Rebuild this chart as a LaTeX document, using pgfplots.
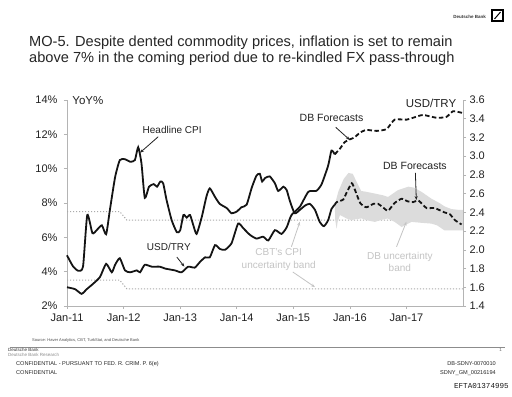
\documentclass[border=0pt]{standalone}
\usepackage{pgfplots}
\pgfplotsset{compat=1.18}
\usepackage{fontspec}
\setmainfont{Liberation Sans}
\setmonofont{Liberation Mono}
\usetikzlibrary{arrows.meta}

\definecolor{axisgrey}{HTML}{B4B4B4}
\definecolor{dotgrey}{HTML}{AAAAAA}
\definecolor{bandgrey}{HTML}{DCDCDC}
\definecolor{labgrey}{HTML}{C4C4C4}
\definecolor{linecol}{HTML}{141414}
\definecolor{txt}{HTML}{222222}

\pgfplotsset{
  common/.style={
    at={(67bp,91bp)}, anchor=south west, scale only axis,
    width=396bp, height=206bp, xmin=0, xmax=84, clip=false,
    axis line style={axisgrey, line width=0.6bp},
    tick style={axisgrey, line width=0.6bp},
    major tick length=3bp, tick align=outside,
    ticklabel style={font=\fontsize{11bp}{13bp}\selectfont, text=txt},
    /pgf/number format/assume math mode=true,
  }
}

\begin{document}
\begin{tikzpicture}
\path[fill=white,use as bounding box] (0,0) rectangle (512bp,397bp);

% logo
\node[anchor=base east, font=\fontsize{4.5bp}{5bp}\selectfont\bfseries, text=black!80, inner sep=0] at (486bp,378bp) {Deutsche Bank};
\draw[line width=1.2bp] (492bp,376bp) rectangle (503bp,387bp);
\draw[line width=1bp] (494.5bp,378bp) -- (500.5bp,385bp);

% title
\node[anchor=base west, font=\fontsize{14.6bp}{18bp}\selectfont, text=black!85, inner sep=0] at (29bp,350bp) {MO-5. Despite dented commodity prices, inflation is set to remain};
\node[anchor=base west, font=\fontsize{14.6bp}{18bp}\selectfont, text=black!85, inner sep=0] at (29bp,334bp) {above 7\% in the coming period due to re-kindled FX pass-through};

\begin{axis}[common,
  ymin=2, ymax=14,
  axis x line*=bottom, axis y line*=left,
  xtick={0,12,24,36,48,60,72},
  xticklabels={Jan-11,Jan-12,Jan-13,Jan-14,Jan-15,Jan-16,Jan-17},
  ytick={2,4,6,8,10,12,14},
  yticklabel={\pgfmathprintnumber{\tick}\%},
  yticklabel style={xshift=-3bp},
  xticklabel style={yshift=-1bp},
]
% CBT uncertainty band (dotted)
\addplot[dotgrey, line width=1bp, dash pattern=on 1.2bp off 1.8bp] coordinates {(0,7.5)(11.2,7.5)(12.7,7.0)(84,7.0)};
\addplot[dotgrey, line width=1bp, dash pattern=on 1.2bp off 1.8bp] coordinates {(0,3.5)(11.2,3.5)(12.7,3.0)(84,3.0)};
% DB uncertainty band
\addplot[fill=bandgrey, draw=none] coordinates {
(56.8,7.9)(57.6,8.7)(58.7,9.4)(59.7,9.75)(60.6,9.7)(61.5,9.2)(62.4,8.7)(63.5,8.65)(65.3,8.55)(67.0,8.45)(68.1,8.35)(70.2,8.75)(72.4,8.95)(73.5,8.9)(75.2,8.65)(77.3,8.25)(79.0,8.0)(80.1,7.8)(81.5,7.65)(83.0,7.6)(84,7.6)
(84,6.4)(81,6.4)(80.1,6.4)(78.5,6.7)(77.3,6.8)(75,6.85)(73.1,6.9)(72,6.75)(71.0,6.6)(69.5,6.9)(68.0,7.1)(66.5,7.0)(65.3,6.9)(63.5,7.0)(62.5,7.1)(61,7.05)(60.4,7.0)(59.3,7.1)(57.9,7.3)(57.4,6.9)(57.2,6.5)(56.9,7.0)(56.8,7.9)
} -- cycle;
% Headline CPI
\addplot[linecol, line width=1.8bp, smooth, tension=0.35] coordinates {
(0,4.95)(1.3,4.3)(2.4,4.05)(3.4,4.3)(4.3,7.3)(5.4,6.24)(6.4,6.45)(7.4,6.7)(8.3,6.18)(9.1,7.6)(10.2,9.5)(11.2,10.5)(12.3,10.55)(13.4,10.4)(14.4,10.5)(15.1,11.25)(15.8,10.3)(16.5,8.3)(17.4,8.95)(18.4,9.1)(19.1,8.95)(19.8,9.25)(20.4,9.15)(21.1,8.2)(22.2,7.0)(23.3,6.3)(24.0,6.4)(24.7,7.3)(25.4,7.15)(26.1,7.3)(26.8,6.7)(27.5,6.2)(28.6,7.2)(29.6,8.4)(30.3,8.85)(31.4,8.35)(32.4,7.95)(33.9,7.7)(34.9,7.4)(36.0,7.5)(37.0,7.75)(38.1,7.9)(39.2,8.9)(40.2,9.6)(40.9,9.7)(41.4,9.25)(42.0,9.45)(43.0,9.55)(44.1,9.15)(44.8,8.7)(45.9,8.95)(46.6,8.75)(47.3,8.1)(48.3,7.4)(49.4,7.6)(50.5,7.85)(51.5,7.95)(52.6,7.6)(53.6,6.9)(54.5,6.65)(55.4,7.0)(56.1,7.65)(56.8,7.9)
};
\addplot[linecol, line width=1.8bp, dash pattern=on 4.5bp off 2.5bp, smooth, tension=0.35] coordinates {
(56.8,7.9)(57.2,8.05)(58.6,8.2)(59.3,8.6)(60.4,9.15)(61.1,8.75)(62.2,8.0)(63.5,7.75)(65.0,7.95)(66.0,7.95)(67.0,7.75)(68.1,7.55)(69.5,8.0)(71.0,8.25)(72.2,8.1)(73.4,8.05)(74.5,8.15)(75.5,7.9)(76.3,7.7)(78.0,7.7)(80.1,7.45)(81.2,7.35)(82.3,7.0)(83.7,6.75)
};
% annotations
\node[anchor=west, font=\fontsize{11.5bp}{13bp}\selectfont, text=txt] at (axis cs:0.4,13.95) {YoY\%};
\node[anchor=east, font=\fontsize{11.5bp}{13bp}\selectfont, text=txt] at (axis cs:83.3,13.8) {USD/TRY};
\node[font=\fontsize{10bp}{12bp}\selectfont, text=txt] at (axis cs:22.3,12.25) {Headline CPI};
\draw[-{Stealth[length=4bp]}, line width=0.8bp, txt] (axis cs:19.35,11.86) -- (axis cs:15.5,10.93);
\node[font=\fontsize{10bp}{12bp}\selectfont, text=txt] at (axis cs:21.6,5.45) {USD/TRY};
\draw[-{Stealth[length=4bp]}, line width=0.8bp, txt] (axis cs:23.3,4.85) -- (axis cs:24.9,4.29);
\node[font=\fontsize{10.5bp}{12bp}\selectfont, text=txt] at (axis cs:56.1,12.93) {DB Forecasts};
\draw[-{Stealth[length=4bp]}, line width=0.8bp, txt] (axis cs:57.0,12.41) -- (axis cs:60.0,11.67);
\node[font=\fontsize{10.5bp}{12bp}\selectfont, text=txt] at (axis cs:73.8,10.15) {DB Forecasts};
\draw[-{Stealth[length=4bp]}, line width=0.8bp, txt] (axis cs:73.9,9.76) -- (axis cs:74.1,8.17);
\node[font=\fontsize{10bp}{12.5bp}\selectfont, text=labgrey, align=center] at (axis cs:44.9,4.71) {CBT's CPI\\uncertainty band};
\draw[-{Stealth[length=4bp]}, line width=0.8bp, labgrey] (axis cs:47.6,5.45) -- (axis cs:49.4,6.91);
\draw[-{Stealth[length=4bp]}, line width=0.8bp, labgrey] (axis cs:47.9,3.98) -- (axis cs:52.6,3.1);
\node[font=\fontsize{10bp}{12.5bp}\selectfont, text=labgrey, align=center] at (axis cs:70.6,4.58) {DB uncertainty\\band};
\draw[-{Stealth[length=4bp]}, line width=0.8bp, labgrey] (axis cs:69.9,5.45) -- (axis cs:72.0,6.91);
\end{axis}

\begin{axis}[common,
  ymin=1.4, ymax=3.6,
  hide x axis, axis y line*=right,
  ytick={1.4,1.6,...,3.6},
  yticklabel style={/pgf/number format/.cd, fixed, fixed zerofill, precision=1},
]
\addplot[linecol, line width=1.8bp, smooth, tension=0.35] coordinates {
(0,1.6)(1.7,1.58)(3.1,1.53)(4.2,1.58)(5.6,1.64)(7.0,1.71)(8.3,1.85)(9.5,1.76)(10.2,1.84)(11.2,1.91)(12.3,1.78)(13.4,1.76)(14.8,1.78)(15.5,1.76)(16.5,1.84)(18.0,1.82)(19.7,1.82)(20.8,1.80)(22.9,1.78)(24.3,1.76)(25.7,1.82)(27.1,1.81)(28.2,1.87)(29.3,1.92)(30.3,1.92)(31.4,2.05)(32.4,2.01)(33.5,2.0)(34.9,2.07)(36.3,2.28)(37.4,2.23)(38.8,2.16)(40.2,2.12)(41.6,2.14)(42.7,2.10)(44.1,2.21)(45.5,2.17)(46.6,2.24)(47.6,2.37)(49.4,2.46)(51.2,2.62)(52.9,2.63)(54.0,2.70)(55.4,2.90)(56.1,3.06)(56.8,3.02)
};
\addplot[linecol, line width=1.8bp, dash pattern=on 4.5bp off 2.5bp, smooth, tension=0.35] coordinates {
(56.8,3.02)(57.9,3.08)(58.9,3.15)(60.0,3.18)(61,3.2)(62.1,3.25)(63.5,3.28)(65.7,3.27)(67.8,3.29)(69.5,3.39)(72.0,3.39)(73.4,3.41)(75.5,3.44)(78.4,3.41)(80.5,3.42)(81.9,3.48)(84,3.46)
};
\end{axis}

% footer
\node[anchor=base west, font=\fontsize{4bp}{5bp}\selectfont, text=black!70, inner sep=0] at (32bp,55bp) {Source: Haver Analytics, CBT, TurkStat, and Deutsche Bank};
\draw[black!45, line width=0.6bp] (10bp,50bp) -- (505bp,50bp);
\node[anchor=base west, font=\fontsize{4.5bp}{5bp}\selectfont, text=black!80, inner sep=0] at (8bp,45bp) {Deutsche Bank};
\node[anchor=base west, font=\fontsize{4.5bp}{5bp}\selectfont, text=black!45, inner sep=0] at (8bp,40bp) {Deutsche Bank Research};
\node[anchor=base east, font=\fontsize{4.5bp}{5bp}\selectfont, text=black!60, inner sep=0] at (502bp,45bp) {1};
\node[anchor=base west, font=\fontsize{5.6bp}{6bp}\selectfont, text=black!85, inner sep=0] at (16bp,32bp) {CONFIDENTIAL - PURSUANT TO FED. R. CRIM. P. 6(e)};
\node[anchor=base west, font=\fontsize{5.6bp}{6bp}\selectfont, text=black!85, inner sep=0] at (16bp,23bp) {CONFIDENTIAL};
\node[anchor=base east, font=\fontsize{5.6bp}{6bp}\selectfont, text=black!85, inner sep=0] at (496bp,32bp) {DB-SDNY-0070010};
\node[anchor=base east, font=\fontsize{5.6bp}{6bp}\selectfont, text=black!85, inner sep=0] at (496bp,23bp) {SDNY\_GM\_00216194};
\node[anchor=base east, font=\fontsize{7.6bp}{8bp}\selectfont\ttfamily, text=black!90, inner sep=0] at (509bp,9bp) {EFTA01374995};
\end{tikzpicture}
\end{document}
